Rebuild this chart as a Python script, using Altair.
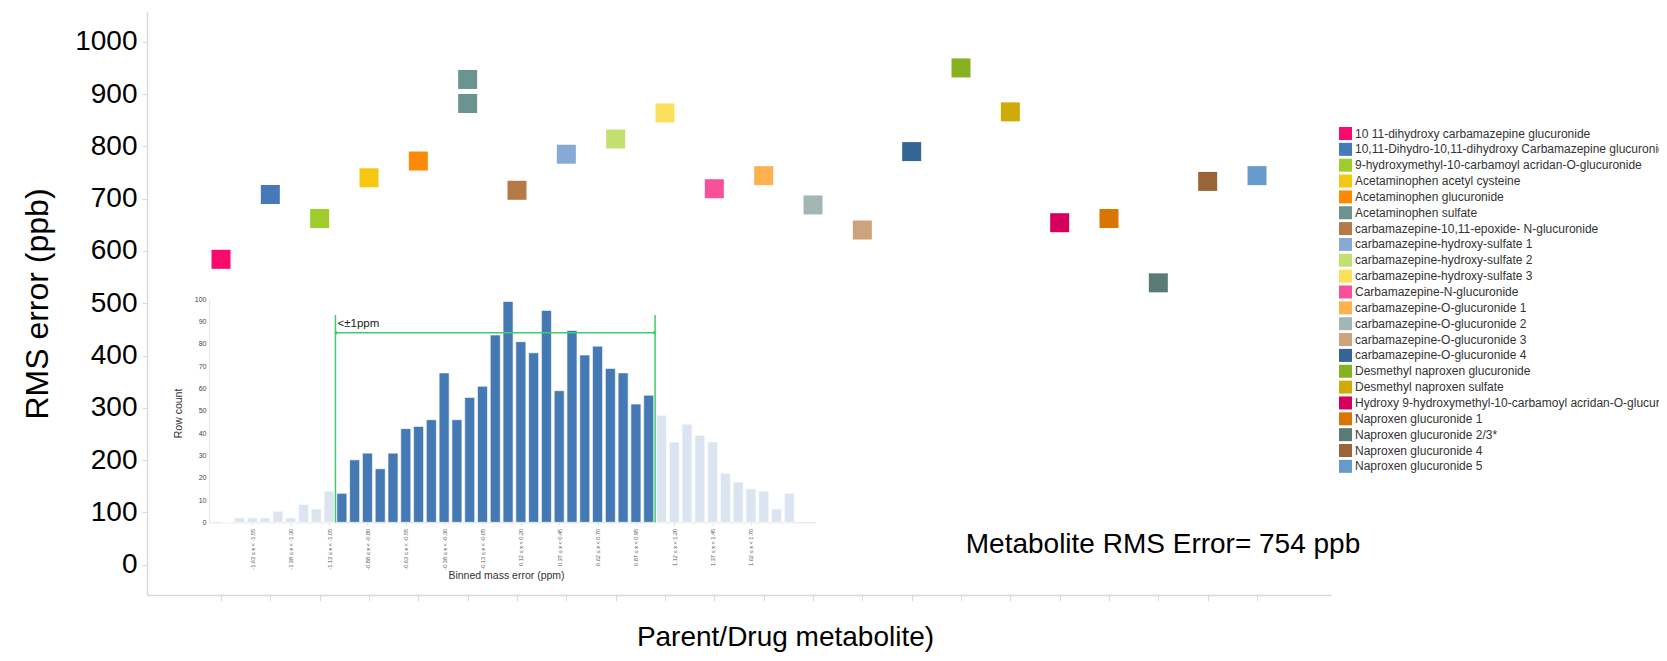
import json
import altair as alt
import pandas as pd

# ---------------- data ----------------
metabolites = [
    "10 11-dihydroxy carbamazepine glucuronide",
    "10,11-Dihydro-10,11-dihydroxy Carbamazepine glucuronide",
    "9-hydroxymethyl-10-carbamoyl acridan-O-glucuronide",
    "Acetaminophen acetyl cysteine",
    "Acetaminophen glucuronide",
    "Acetaminophen sulfate",
    "carbamazepine-10,11-epoxide- N-glucuronide",
    "carbamazepine-hydroxy-sulfate 1",
    "carbamazepine-hydroxy-sulfate 2",
    "carbamazepine-hydroxy-sulfate 3",
    "Carbamazepine-N-glucuronide",
    "carbamazepine-O-glucuronide 1",
    "carbamazepine-O-glucuronide 2",
    "carbamazepine-O-glucuronide 3",
    "carbamazepine-O-glucuronide 4",
    "Desmethyl naproxen glucuronide",
    "Desmethyl naproxen sulfate",
    "Hydroxy 9-hydroxymethyl-10-carbamoyl acridan-O-glucuronide",
    "Naproxen glucuronide 1",
    "Naproxen glucuronide 2/3*",
    "Naproxen glucuronide 4",
    "Naproxen glucuronide 5",
]
metabolite_colors = [
    "#fa0a6a", "#4679b9", "#9fcd2b", "#f4c712", "#fd8a07", "#6b938f",
    "#b67a48", "#87aad4", "#c2e070", "#fbe05c", "#f9509a", "#fdb14f",
    "#a0b7b5", "#cda27c", "#356594", "#86b122", "#cfab08", "#d5005c",
    "#d97602", "#5a7c77", "#9a6439", "#659acb",
]
# one point per metabolite, Acetaminophen sulfate has two
point_metabolite = metabolites[:6] + [metabolites[5]] + metabolites[6:]
point_rms = [584, 708, 662, 740, 772, 928, 882, 716, 785, 814, 864, 719,
             744, 688, 640, 790, 950, 866, 654, 662, 539, 733, 744]
overall_rms = 754

# inset histogram of binned mass error
hist_counts = [0, 2, 2, 2, 5, 2, 8, 6, 14,
               13, 28, 31, 24, 31, 42, 43, 46, 67, 46, 56, 61,
               84, 99, 81, 76, 95, 59, 86, 75, 79, 69, 67, 53, 57,
               48, 36, 44, 39, 36, 22, 18, 15, 14, 6, 13]
bin_tick_positions = [2, 5, 8, 11, 14, 17, 20, 23, 26, 29, 32, 35, 38, 41]
bin_tick_labels = [
    "-1.63 ≤ x < -1.55", "-1.38 ≤ x < -1.30", "-1.13 ≤ x < -1.05",
    "-0.88 ≤ x < -0.80", "-0.63 ≤ x < -0.55", "-0.38 ≤ x < -0.30",
    "-0.13 ≤ x < -0.05", "0.12 ≤ x < 0.20", "0.37 ≤ x < 0.45",
    "0.62 ≤ x < 0.70", "0.87 ≤ x < 0.95", "1.12 ≤ x < 1.20",
    "1.37 ≤ x < 1.45", "1.62 ≤ x < 1.70",
]
bracket_bounds = [8.5, 33.5]
bracket_top = 93
arrow_level = 85
bracket_label = "<±1ppm"

# ---------------- styling ----------------
FONT = "Liberation Sans"
W, H = 1184, 583
AXIS_GRAY = "#d9d9d9"
DARK = "#4479b4"
LIGHT = "#dbe5f1"
GREEN = "#3fcc6c"

# ---------------- main scatter ----------------
main_df = pd.DataFrame({"metabolite": point_metabolite, "rms": point_rms})
main_df["idx"] = [metabolites.index(m) for m in main_df["metabolite"]]
n = len(metabolites)

main = alt.Chart(main_df).mark_point(
    shape="square", filled=True, size=361, opacity=1
).encode(
    x=alt.X(
        "idx:Q",
        scale=alt.Scale(domain=[-1.5, n + 0.5], nice=False, zero=False),
        axis=alt.Axis(
            title="Parent/Drug metabolite)", labels=False, ticks=True, tickSize=6,
            values=list(range(n)),
            tickColor=AXIS_GRAY, domainColor=AXIS_GRAY, domainWidth=1.5,
            titleFontSize=28, titleFont=FONT, titleFontWeight="normal",
            titleColor="black", titleX=638, titleY=50, titleAlign="center",
            titleBaseline="alphabetic", grid=False,
        ),
    ),
    y=alt.Y(
        "rms:Q",
        scale=alt.Scale(domain=[-58, 1057], nice=False, zero=False),
        axis=alt.Axis(
            title="RMS error (ppb)", values=list(range(0, 1001, 100)), grid=False,
            format="d",
            labelFontSize=28, labelFont=FONT, labelColor="black", labelPadding=5,
            tickSize=5, tickColor=AXIS_GRAY, domainColor=AXIS_GRAY, domainWidth=1.5,
            titleFontSize=32, titleFont=FONT, titleFontWeight="normal",
            titleColor="black", titleX=-110, titleY=291.5, titleAngle=270,
            titleAlign="center", titleBaseline="middle",
        ),
    ),
    color=alt.Color(
        "metabolite:N",
        scale=alt.Scale(domain=metabolites, range=metabolite_colors),
        legend=alt.Legend(
            title=None, orient="none", legendX=1192, legendY=115,
            symbolType="square", symbolSize=169, symbolStrokeWidth=0,
            symbolOpacity=1, labelFontSize=12, labelFont=FONT,
            labelColor="#333333", labelLimit=700, rowPadding=2.85,
            padding=0, labelOffset=3,
        ),
    ),
)

# ---------------- inset histogram ----------------
lo, hi = bracket_bounds
xs = alt.Scale(domain=[-1, 45.6], range=[62, 667.8], nice=False, zero=False)
ys = alt.Scale(domain=[0, 100], range=[510.3, 287.3], nice=False, zero=False)

labels_js = json.dumps(bin_tick_labels, ensure_ascii=False)
pos_js = json.dumps(bin_tick_positions)

inset_x_axis = alt.Axis(
    orient="bottom", offset=-72.7, values=bin_tick_positions,
    labelExpr=f"{labels_js}[indexof({pos_js}, datum.value)]",
    labelAngle=270, labelFontSize=5.6, labelFont=FONT, labelColor="#555555",
    labelPadding=3, labelOverlap=False, labelFlush=False, labelBound=False,
    tickSize=3, tickColor="#e3e3e3", domainColor="#e3e3e3", grid=False,
    title="Binned mass error (ppm)", titleFontSize=10.5, titleFont=FONT,
    titleFontWeight="normal", titleColor="#333333", titleX=359,
    titleY=52.7, titleAlign="center", titleBaseline="middle",
)
inset_y_axis = alt.Axis(
    orient="left", offset=-62, values=list(range(0, 101, 10)), grid=False,
    labelFontSize=7, labelFont=FONT, labelColor="#444444", labelPadding=3,
    tickSize=0, domainColor="#e3e3e3",
    title="Row count", titleFontSize=10.5, titleFont=FONT,
    titleFontWeight="normal", titleColor="#333333", titleX=-31,
    titleY=401, titleAngle=270, titleAlign="center", titleBaseline="middle",
)
IX = alt.X("pos:Q", scale=xs, axis=inset_x_axis)
IY = alt.Y("val:Q", scale=ys, axis=inset_y_axis)

hist_df = pd.DataFrame({"pos": list(range(len(hist_counts))), "val": hist_counts})

bars = alt.Chart(hist_df).transform_calculate(
    within=f"datum.pos > {lo} && datum.pos < {hi}"
).mark_bar(width=10, stroke="white", strokeWidth=0.6).encode(
    x=IX, y=IY,
    color=alt.condition("datum.within", alt.value(DARK), alt.value(LIGHT)),
)

vdf = pd.DataFrame({"pos": bracket_bounds, "val": [0, 0],
                    "val2": [bracket_top, bracket_top]})
vrules = alt.Chart(vdf).mark_rule(color=GREEN, strokeWidth=1.5).encode(
    x=IX, y=IY, y2="val2:Q",
)

hdf = pd.DataFrame({"pos": [lo], "pos2": [hi], "val": [arrow_level]})
hrule = alt.Chart(hdf).mark_rule(color=GREEN, strokeWidth=1.5).encode(
    x=IX, x2="pos2:Q", y=IY,
)

adf = pd.DataFrame({"pos": bracket_bounds, "val": [arrow_level, arrow_level],
                    "dir": ["left", "right"]})
arrows = alt.Chart(adf).mark_point(filled=True, size=16, color=GREEN, opacity=1).encode(
    x=IX, y=IY,
    shape=alt.Shape("dir:N", scale=alt.Scale(domain=["left", "right"],
                    range=["triangle-left", "triangle-right"]), legend=None),
)

tdf = pd.DataFrame({"pos": [lo], "val": [(bracket_top + arrow_level) / 2],
                    "label": [bracket_label]})
blabel = alt.Chart(tdf).mark_text(
    align="left", baseline="middle", dx=2, fontSize=11.5, font=FONT, color="#222222"
).encode(x=IX, y=IY, text="label:N")

inset = alt.layer(bars, vrules, hrule, arrows, blabel)

# ---------------- annotation ----------------
ann_df = pd.DataFrame({"t": [f"Metabolite RMS Error= {overall_rms} ppb"]})
annotation = alt.Chart(ann_df).mark_text(
    fontSize=28, font=FONT, color="black", align="center", baseline="middle"
).encode(x=alt.value(1016), y=alt.value(533), text="t:N")

chart = alt.layer(main, inset, annotation).resolve_scale(
    x="independent", y="independent"
).properties(
    width=W, height=H,
    autosize=alt.AutoSizeParams(type="none"),
    padding={"left": 139, "top": 4, "right": 328, "bottom": 58},
).configure(font=FONT).configure_view(stroke=None)

chart.save("out.html", embed_options={"renderer": "svg", "actions": False})
